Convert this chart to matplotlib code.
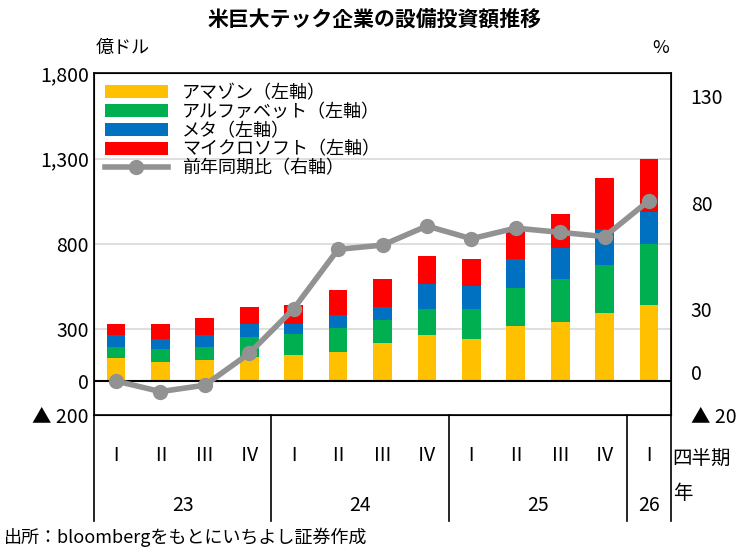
import matplotlib
matplotlib.use("Agg")
from matplotlib import pyplot as plt
import numpy as np

plt.rcParams['font.family'] = ['Noto Sans CJK JP', 'DejaVu Sans']

# data (億ドル / %)
quarters = ["Ⅰ", "Ⅱ", "Ⅲ", "Ⅳ"] * 3 + ["Ⅰ"]
years = ["23", "24", "25", "26"]
amazon = [132, 108, 120, 141, 148, 171, 220, 269, 246, 320, 345, 396, 444]
alphabet = [64, 77, 76, 115, 123, 135, 137, 150, 171, 224, 248, 282, 357]
meta = [72, 60, 72, 75, 60, 76, 74, 148, 137, 169, 182, 209, 186]
microsoft = [63, 86, 102, 99, 113, 148, 164, 162, 161, 167, 199, 297, 310]
yoy = [-4, -9, -6, 9, 30, 58, 60, 69, 63, 68, 66, 64, 81]

x = np.arange(len(amazon))
fig = plt.figure(figsize=(7.5, 5.54), dpi=100)
ax = fig.add_axes([0.125, 0.251, 0.77, 0.617])

# stacked bars
series = [("アマゾン（左軸）", amazon, "#FFC000"),
          ("アルファベット（左軸）", alphabet, "#00B050"),
          ("メタ（左軸）", meta, "#0070C0"),
          ("マイクロソフト（左軸）", microsoft, "#FF0000")]
bottom = np.zeros(len(x))
for name, vals, col in series:
    ax.bar(x, vals, 0.42, bottom=bottom, color=col, label=name, zorder=2)
    bottom += np.array(vals)

ax.set_xlim(-0.5, 12.5)
ax.set_ylim(-200, 1800)
ax.set_yticks([-200, 0, 300, 800, 1300, 1800])
ax.set_yticklabels(["▲ 200", "0", "300", "800", "1,300", "1,800"], fontsize=14)
ax.set_xticks([])
ax.tick_params(length=0)
for v in [300, 800, 1300]:
    ax.axhline(v, color="#d9d9d9", lw=1.2, zorder=0)
ax.axhline(0, color="black", lw=1.5, zorder=3)
for s in ax.spines.values():
    s.set_linewidth(1.2)

# line on right axis
ax2 = ax.twinx()
ax2.plot(x, yoy, color="#929292", lw=4, marker="o", ms=10, label="前年同期比（右軸）", zorder=4)
ax2.set_ylim(-20, 141)
ax2.set_yticks([-20, 0, 30, 80, 130])
ax2.set_yticklabels(["▲ 20", "0", "30", "80", "130"], fontsize=14)
ax2.tick_params(length=0, pad=14)

h1, l1 = ax.get_legend_handles_labels()
h2, l2 = ax2.get_legend_handles_labels()
ax2.legend(h1 + h2, l1 + l2, loc="upper left", frameon=False, fontsize=13,
           handlelength=3.5, handleheight=0.7, labelspacing=0.05,
           borderaxespad=0.2, bbox_to_anchor=(0.0, 1.0))

# category table below the axes
tr = ax.get_xaxis_transform()
for xb in [-0.5, 3.5, 7.5, 11.5, 12.5]:
    ax.plot([xb, xb], [0, -0.31], color="black", lw=1.2, transform=tr, clip_on=False)
for i, q in enumerate(quarters):
    ax.text(i, -0.12, q, ha="center", va="center", fontsize=14, transform=tr)
for xc, yr in zip([1.5, 5.5, 9.5, 12], years):
    ax.text(xc, -0.265, yr, ha="center", va="center", fontsize=14, transform=tr)

fig.text(0.897, 0.17, "四半期", fontsize=14, va="center")
fig.text(0.897, 0.11, "年", fontsize=14, va="center")
fig.text(0.5, 0.965, "米巨大テック企業の設備投資額推移", ha="center", va="center",
         fontsize=15, fontweight="bold")
fig.text(0.127, 0.913, "億ドル", ha="left", va="center", fontsize=13)
fig.text(0.87, 0.913, "%", ha="left", va="center", fontsize=13)
fig.text(0.005, 0.03, "出所：bloombergをもとにいちよし証券作成", fontsize=13, va="center")

fig.savefig("out.png", dpi=100)
